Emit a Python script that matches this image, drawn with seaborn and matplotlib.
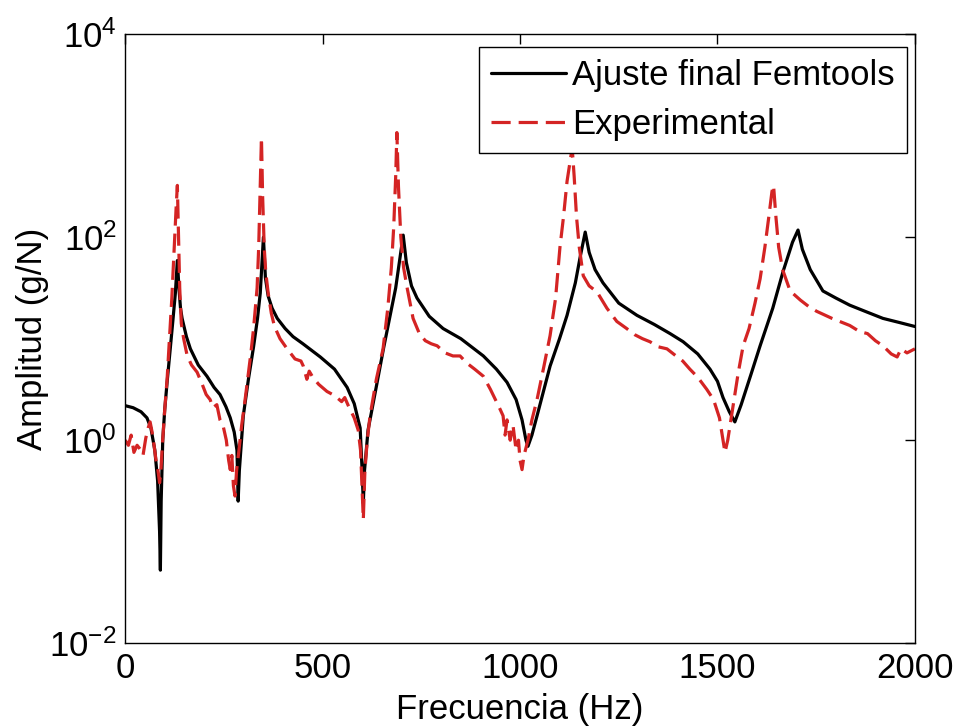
import numpy as np
import pandas as pd
import matplotlib
matplotlib.use("Agg")
import matplotlib.pyplot as plt
import seaborn as sns

# Femtools fit: frequency (Hz) and log10 of amplitude (g/N)
femtools_freq = [0, 20, 40, 55, 65, 75, 82, 87, 89, 91, 95, 100, 106, 114, 120, 127, 132, 136, 140,
                 144, 155, 165, 185, 207, 225, 240, 255, 266, 276, 283, 286, 289, 299, 312, 325, 335,
                 342, 350, 355, 362, 372, 385, 405, 425, 450, 494, 530, 562, 580, 595, 600, 603, 606,
                 615, 638, 655, 671, 685, 696, 704, 712, 725, 739, 770, 805, 850, 907, 940, 967, 990,
                 1005, 1015, 1020, 1030, 1043, 1076, 1100, 1119, 1140, 1152, 1165, 1175, 1190, 1210,
                 1250, 1296, 1340, 1380, 1413, 1450, 1481, 1500, 1514, 1530, 1544, 1560, 1585, 1608,
                 1640, 1666, 1690, 1704, 1715, 1735, 1767, 1800, 1835, 1880, 1919, 1960, 2000]
femtools_log = [0.34, 0.32, 0.28, 0.22, 0.12, -0.1, -0.4, -0.9, -1.28, -0.6, 0.0, 0.3, 0.57, 0.9, 1.15,
                1.45, 1.77, 1.5, 1.3, 1.2, 1.02, 0.9, 0.74, 0.63, 0.52, 0.45, 0.33, 0.22, 0.08, -0.1,
                -0.6, -0.3, 0.24, 0.6, 0.92, 1.2, 1.45, 2.0, 1.6, 1.42, 1.3, 1.2, 1.1, 1.02, 0.95, 0.82,
                0.7, 0.52, 0.36, 0.12, -0.3, -0.62, -0.3, 0.1, 0.57, 0.92, 1.23, 1.5, 1.8, 2.02, 1.75,
                1.52, 1.4, 1.22, 1.1, 1.0, 0.83, 0.7, 0.57, 0.4, 0.2, 0.0, -0.06, 0.05, 0.24, 0.73, 1.0,
                1.23, 1.55, 1.8, 2.05, 1.85, 1.68, 1.55, 1.35, 1.23, 1.14, 1.05, 0.97, 0.85, 0.7, 0.58,
                0.42, 0.28, 0.18, 0.35, 0.65, 0.93, 1.3, 1.66, 1.95, 2.07, 1.88, 1.68, 1.47, 1.4, 1.33,
                1.26, 1.2, 1.16, 1.12]

# Experimental curve
exp_freq = [0, 8, 15, 22, 30, 38, 45, 52, 58, 63, 68, 73, 78, 83, 87, 90, 94, 100, 106, 112, 118, 124,
            129, 132, 135, 138, 142, 148, 157, 168, 182, 195, 205, 215, 222, 232, 240, 248, 256, 262,
            266, 270, 274, 278, 282, 288, 295, 302, 309, 318, 325, 334, 338, 342, 345, 348, 352, 356,
            362, 370, 378, 392, 410, 430, 445, 451, 460, 466, 475, 490, 511, 530, 548, 556, 565, 580,
            590, 596, 600, 603, 607, 613, 620, 636, 653, 665, 674, 680, 685, 688, 692, 698, 705, 714,
            729, 745, 760, 775, 790, 810, 830, 848, 865, 885, 907, 925, 940, 950, 957, 962, 967, 975,
            982, 990, 996, 1000, 1005, 1010, 1020, 1030, 1043, 1060, 1076, 1090, 1101, 1110, 1119,
            1127, 1132, 1137, 1143, 1150, 1160, 1175, 1195, 1220, 1245, 1270, 1290, 1310, 1329, 1350,
            1372, 1395, 1412, 1430, 1450, 1473, 1490, 1505, 1512, 1519, 1526, 1540, 1552, 1565, 1580,
            1595, 1608, 1620, 1630, 1638, 1642, 1648, 1655, 1665, 1684, 1710, 1730, 1751, 1790, 1835,
            1860, 1880, 1900, 1919, 1940, 1955, 1965, 1980, 2000]
exp_log = [0.0, -0.05, 0.05, -0.12, -0.05, -0.09, -0.15, 0.02, 0.12, 0.18, 0.08, -0.05, -0.2, -0.3,
           -0.42, -0.32, -0.05, 0.3, 0.6, 1.0, 1.4, 1.9, 2.3, 2.51, 2.0, 1.5, 1.15, 1.0, 0.83, 0.74,
           0.67, 0.55, 0.45, 0.4, 0.32, 0.35, 0.2, 0.14, 0.0, -0.2, -0.29, -0.15, -0.45, -0.55, -0.3,
           -0.1, 0.15, 0.35, 0.57, 0.85, 1.1, 1.5, 1.9, 2.5, 2.98, 2.4, 1.9, 1.65, 1.45, 1.25, 1.12,
           1.0, 0.9, 0.8, 0.78, 0.73, 0.6, 0.68, 0.62, 0.55, 0.48, 0.44, 0.38, 0.42, 0.34, 0.22, 0.1,
           -0.1, -0.5, -0.78, -0.3, 0.0, 0.24, 0.6, 0.9, 1.3, 1.7, 2.1, 2.6, 3.03, 2.5, 2.0, 1.7, 1.5,
           1.2, 1.05, 0.98, 0.95, 0.93, 0.86, 0.83, 0.83, 0.76, 0.7, 0.63, 0.5, 0.38, 0.3, 0.24, 0.05,
           0.2, 0.0, 0.15, -0.1, 0.0, -0.2, -0.29, -0.15, 0.0, 0.2, 0.4, 0.72, 1.03, 1.4, 1.9, 2.2,
           2.55, 2.75, 2.88, 2.6, 2.2, 1.9, 1.62, 1.52, 1.46, 1.3, 1.17, 1.1, 1.04, 1.0, 0.97, 0.92, 0.9,
           0.83, 0.78, 0.7, 0.62, 0.5, 0.4, 0.22, 0.05, -0.12, 0.0, 0.35, 0.65, 0.93, 1.1, 1.35, 1.59,
           1.9, 2.2, 2.45, 2.51, 2.2, 1.9, 1.68, 1.47, 1.38, 1.32, 1.27, 1.2, 1.13, 1.07, 1.05, 0.98,
           0.93, 0.85, 0.82, 0.9, 0.86, 0.9]

fem = pd.DataFrame({"freq": femtools_freq, "amp": 10.0 ** np.array(femtools_log)})
exp = pd.DataFrame({"freq": exp_freq, "amp": 10.0 ** np.array(exp_log)})

sns.set_style("white")
plt.rcParams["font.family"] = ["Liberation Sans", "DejaVu Sans"]
plt.rcParams["mathtext.fontset"] = "custom"
plt.rcParams["mathtext.rm"] = "Liberation Sans"
plt.rcParams["text.color"] = "black"
plt.rcParams["axes.labelcolor"] = "black"
plt.rcParams["xtick.color"] = "black"
plt.rcParams["ytick.color"] = "black"

fig = plt.figure(figsize=(9.56, 7.26), dpi=100)
ax = fig.add_axes([0.131, 0.114, 0.826, 0.839])

sns.lineplot(data=fem, x="freq", y="amp", color="black", lw=2.3, sort=False,
             estimator=None, ax=ax, label="Ajuste final Femtools")
sns.lineplot(data=exp, x="freq", y="amp", color="#d42424", lw=2.3, sort=False,
             estimator=None, ax=ax, linestyle=(0, (6, 2.5)), label="Experimental")

ax.set_yscale("log")
ax.set_xlim(0, 2000)
ax.set_ylim(1e-2, 1e4)
ax.set_yticks([1e-2, 1e0, 1e2, 1e4])
ax.yaxis.set_minor_locator(matplotlib.ticker.NullLocator())
ax.set_xticks([0, 500, 1000, 1500, 2000])

ax.tick_params(direction="in", length=7, width=1, top=True, right=True,
               labelsize=25, pad=6)
for s in ax.spines.values():
    s.set_color("black")
    s.set_linewidth(1)

ax.set_xlabel("Frecuencia (Hz)", fontsize=25, labelpad=6)
ax.set_ylabel("Amplitud (g/N)", fontsize=25, labelpad=0)

leg = ax.legend(loc="upper right", bbox_to_anchor=(0.990, 0.979), fontsize=25,
                frameon=True, fancybox=False, framealpha=1, handlelength=2.16,
                handletextpad=0.17, borderpad=0.35, labelspacing=0.45, borderaxespad=0)
leg.get_frame().set_edgecolor("black")
leg.get_frame().set_linewidth(1)
leg.set_zorder(10)

fig.savefig("out.png", dpi=100)
